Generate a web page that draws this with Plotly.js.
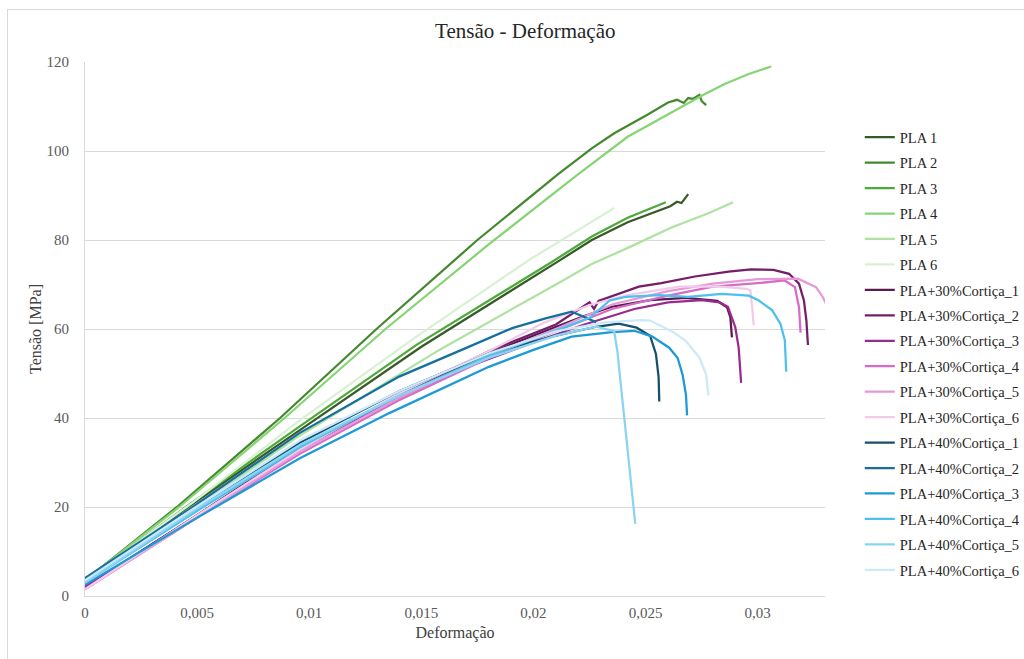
<!DOCTYPE html>
<html>
<head>
<meta charset="utf-8">
<script src="https://cdn.plot.ly/plotly-3.0.1.min.js"></script>
<style>
  html, body { margin: 0; padding: 0; background: #ffffff; }
  #chart { width: 1024px; height: 659px; position: absolute; left: 0; top: 0; }
  #frame { position: absolute; left: 7px; top: 9px; width: 1040px; height: 680px;
           border: 1px solid #d9d9d9; pointer-events: none; }
</style>
</head>
<body>
<div id="chart"></div>
<div id="frame"></div>
<script>
// Stress-strain curves: strain (Deformação) and stress in MPa (Tensão)

// ---- PLA ----
const strainPLA1 = [0, 0.0046, 0.0095, 0.0150, 0.0211, 0.0226, 0.0242, 0.0255, 0.0261, 0.0264, 0.0266, 0.0269];
const stressPLA1 = [3.5, 20, 37, 56, 75.2, 80, 84, 86.5, 87.6, 88.6, 88.3, 90.3];

const strainPLA2 = [0, 0.0041, 0.0087, 0.0130, 0.0175, 0.0211, 0.0226, 0.0236, 0.0251, 0.0260, 0.0264, 0.0267, 0.0269, 0.0271, 0.0274, 0.0275, 0.0277];
const stressPLA2 = [3.5, 20, 40, 60, 80, 94.8, 100.6, 104, 108.2, 110.9, 111.5, 110.8, 111.9, 111.7, 112.6, 111.2, 110.3];

const strainPLA3 = [0, 0.0045, 0.0094, 0.0148, 0.0208, 0.0226, 0.0242, 0.0252, 0.0259];
const stressPLA3 = [3.5, 20, 37.5, 56.5, 75, 80.8, 85, 87, 88.5];

const strainPLA4 = [0, 0.0042, 0.0089, 0.0134, 0.0180, 0.0220, 0.0242, 0.0264, 0.0275, 0.0285, 0.0296, 0.0306];
const stressPLA4 = [3.5, 20, 40, 60, 79, 94.8, 103.2, 109.4, 112.4, 115, 117.3, 119];

const strainPLA5 = [0, 0.0047, 0.0094, 0.0158, 0.0211, 0.0226, 0.0245, 0.0261, 0.0278, 0.0289];
const stressPLA5 = [3.5, 19, 35.5, 55.3, 70.3, 74.6, 78.9, 82.7, 86, 88.5];

const strainPLA6 = [0, 0.0048, 0.0096, 0.0147, 0.0198, 0.0236];
const stressPLA6 = [3.5, 21, 39.6, 58, 75.5, 87.2];

// ---- PLA + 30% cortiça ----
const strainC30_1 = [0, 0.0048, 0.0096, 0.0140, 0.0180, 0.0205, 0.0222, 0.0235, 0.0252, 0.0268, 0.0282, 0.02863, 0.02878, 0.02885];
const stressC30_1 = [2, 17.5, 33.5, 44.5, 54.5, 59.5, 62.8, 65, 66.5, 67, 66.3, 64.9, 62.6, 58.1];

const strainC30_2 = [0, 0.0048, 0.0096, 0.0140, 0.0180, 0.0210, 0.0225, 0.0227, 0.0229, 0.0247, 0.0257, 0.0272, 0.0287, 0.0297, 0.0307, 0.0314, 0.03184, 0.03206, 0.03217, 0.03224];
const stressC30_2 = [2, 17.5, 33, 45, 55, 61, 66, 64.5, 66.3, 69.5, 70.3, 71.8, 72.9, 73.4, 73.3, 72.4, 70.2, 66.4, 61.9, 56.4];

const strainC30_3 = [0, 0.0048, 0.0096, 0.0140, 0.0167, 0.0199, 0.0222, 0.0245, 0.0260, 0.0275, 0.0283, 0.02867, 0.0290, 0.02915, 0.02926];
const stressC30_3 = [2, 17, 33.5, 44.4, 50.8, 56.8, 60.9, 64.5, 66, 66.5, 66, 65, 60.4, 55.8, 47.9];

const strainC30_4 = [0, 0.0048, 0.0096, 0.0140, 0.0180, 0.0210, 0.0235, 0.0260, 0.0280, 0.0300, 0.0312, 0.03166, 0.03184, 0.03191];
const stressC30_4 = [1.5, 17, 32, 44, 53.5, 59.5, 64.5, 67.5, 69.5, 70.3, 70.9, 69.4, 64.9, 59.2];

const strainC30_5 = [0, 0.0048, 0.0096, 0.0140, 0.0180, 0.0210, 0.0235, 0.0260, 0.0280, 0.0300, 0.0318, 0.0326, 0.0329, 0.0333, 0.0336];
const stressC30_5 = [1.5, 17, 32.5, 44.5, 54, 60, 65.5, 68.5, 70.2, 71.2, 71.3, 69.4, 67.2, 63, 58];

const strainC30_6 = [0, 0.0048, 0.0096, 0.0140, 0.0180, 0.0205, 0.0225, 0.0242, 0.0265, 0.0282, 0.0295, 0.02967, 0.02975, 0.02982];
const stressC30_6 = [1.5, 17.5, 33, 45.5, 55, 61.5, 65.4, 67.6, 69.5, 69.6, 69, 68.7, 65, 60.8];

// ---- PLA + 40% cortiça ----
const strainC40_1 = [0, 0.0048, 0.0096, 0.0140, 0.0180, 0.0210, 0.0228, 0.0238, 0.0246, 0.0252, 0.02546, 0.02558, 0.02561];
const stressC40_1 = [3.5, 19, 34.5, 46, 54.5, 58.5, 60.5, 61.2, 60.3, 58.5, 54.4, 49.2, 43.7];

const strainC40_2 = [0, 0.0048, 0.00956, 0.01401, 0.01698, 0.01905, 0.02054, 0.0217, 0.0225, 0.0228];
const stressC40_2 = [4, 20, 36.6, 49.3, 55.7, 60.2, 62.4, 63.9, 62.2, 61.5];

const strainC40_3 = [0, 0.0048, 0.00956, 0.01357, 0.01801, 0.0200, 0.0217, 0.0235, 0.0245, 0.0253, 0.02605, 0.02643, 0.02665, 0.0268, 0.02685];
const stressC40_3 = [2.5, 17, 30.9, 41.1, 51.5, 55.3, 58.3, 59.3, 59.6, 58.3, 55.8, 53.5, 49.7, 45.2, 40.6];

const strainC40_4 = [0, 0.0048, 0.0096, 0.0140, 0.0180, 0.0215, 0.0225, 0.0234, 0.0241, 0.0256, 0.0269, 0.0284, 0.0296, 0.03005, 0.03065, 0.03102, 0.03121, 0.03127];
const stressC40_4 = [3, 18.5, 33.5, 45, 54, 60.5, 62.5, 66.4, 67.2, 67.6, 67.2, 67.9, 67.5, 66.4, 64.2, 61.1, 57.4, 50.4];

const strainC40_5 = [0, 0.0048, 0.0096, 0.0140, 0.0180, 0.0210, 0.0228, 0.0236, 0.02374, 0.02397, 0.02419, 0.02454];
const stressC40_5 = [3, 19, 34, 45, 53.5, 58.5, 60.5, 59.5, 55, 43.8, 32.5, 16.2];

const strainC40_6 = [0, 0.0048, 0.0096, 0.0140, 0.0180, 0.0210, 0.0232, 0.0248, 0.0252, 0.0262, 0.0268, 0.0274, 0.0277, 0.0278];
const stressC40_6 = [3.5, 19.5, 35, 46, 54.5, 59.5, 61.5, 62, 61.9, 59.4, 57.3, 53.6, 49.8, 45.1];

const seriesNames = [
  'PLA 1', 'PLA 2', 'PLA 3', 'PLA 4', 'PLA 5', 'PLA 6',
  'PLA+30%Cortiça_1', 'PLA+30%Cortiça_2', 'PLA+30%Cortiça_3', 'PLA+30%Cortiça_4', 'PLA+30%Cortiça_5', 'PLA+30%Cortiça_6',
  'PLA+40%Cortiça_1', 'PLA+40%Cortiça_2', 'PLA+40%Cortiça_3', 'PLA+40%Cortiça_4', 'PLA+40%Cortiça_5', 'PLA+40%Cortiça_6'
];
const seriesX = [strainPLA1, strainPLA2, strainPLA3, strainPLA4, strainPLA5, strainPLA6,
  strainC30_1, strainC30_2, strainC30_3, strainC30_4, strainC30_5, strainC30_6,
  strainC40_1, strainC40_2, strainC40_3, strainC40_4, strainC40_5, strainC40_6];
const seriesY = [stressPLA1, stressPLA2, stressPLA3, stressPLA4, stressPLA5, stressPLA6,
  stressC30_1, stressC30_2, stressC30_3, stressC30_4, stressC30_5, stressC30_6,
  stressC40_1, stressC40_2, stressC40_3, stressC40_4, stressC40_5, stressC40_6];
const seriesColors = [
  '#375a27', '#46882f', '#4ea93b', '#86d474', '#aee2a1', '#d9f1d3',
  '#5c1a4f', '#761d69', '#9a2a8e', '#d76bc8', '#e59ad8', '#f2cbe9',
  '#17506a', '#176f9f', '#1b9ad6', '#4dc0ee', '#8ad4f2', '#cbe9f8'
];

const serif = 'Liberation Serif, Times New Roman, serif';

const traces = seriesNames.map((name, i) => ({
  type: 'scatter',
  mode: 'lines',
  name: name,
  legendgroup: 'g' + i,
  x: seriesX[i],
  y: seriesY[i],
  line: { color: seriesColors[i], width: 2.25 }
}));

const layout = {
  width: 1024,
  height: 659,
  margin: { l: 85, r: 199, t: 62, b: 63, autoexpand: false },
  paper_bgcolor: '#ffffff',
  plot_bgcolor: '#ffffff',
  separators: ', ',
  title: {
    text: 'Tensão - Deformação',
    font: { family: serif, size: 21, color: '#262626' },
    x: 0.513, xanchor: 'center', y: 0.953, yanchor: 'middle'
  },
  xaxis: {
    range: [0, 0.033],
    dtick: 0.005,
    tick0: 0,
    showgrid: false,
    zeroline: false,
    showline: true,
    linecolor: '#d9d9d9',
    linewidth: 1,
    ticks: '',
    ticklabelstandoff: 3,
    tickfont: { family: serif, size: 15, color: '#595959' },
    title: { text: 'Deformação', font: { family: serif, size: 16, color: '#404040' }, standoff: 6 }
  },
  yaxis: {
    range: [0, 120],
    dtick: 20,
    tick0: 0,
    showgrid: true,
    gridcolor: '#d9d9d9',
    gridwidth: 1,
    zeroline: false,
    showline: true,
    linecolor: '#d9d9d9',
    linewidth: 1,
    ticks: '',
    ticklabelstandoff: 12,
    tickfont: { family: serif, size: 15, color: '#595959' },
    title: { text: 'Tensão [MPa]', font: { family: serif, size: 16, color: '#404040' }, standoff: 0 }
  },
  legend: {
    x: 1.047, xanchor: 'left',
    y: 0.889, yanchor: 'top',
    font: { family: serif, size: 14.5, color: '#262626' },
    tracegroupgap: 3.6,
    bgcolor: 'rgba(0,0,0,0)',
    borderwidth: 0
  },
  showlegend: true
};

Plotly.newPlot('chart', traces, layout, { displayModeBar: false, staticPlot: true });
</script>
</body>
</html>
